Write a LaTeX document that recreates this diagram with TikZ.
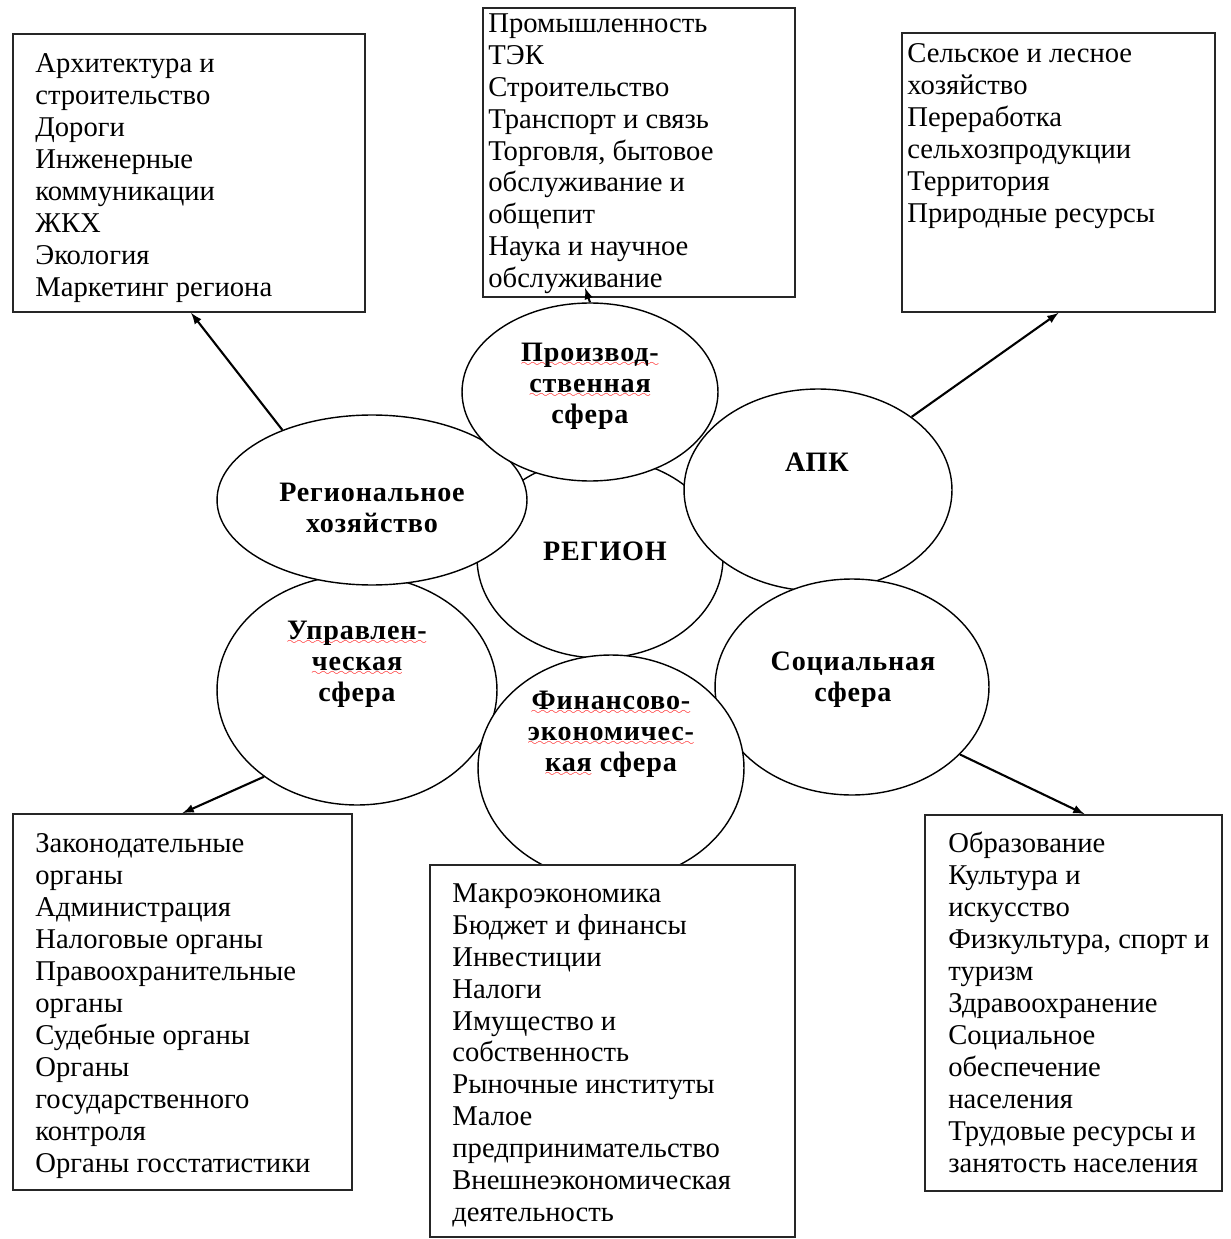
\documentclass[tikz,border=0pt]{standalone}
\usepackage{fontspec}
\setmainfont{Liberation Serif}
\newfontfamily\spherefont{Liberation Serif}[LetterSpace=3]
\usepackage{xcolor}
\usepackage{tikz}
\usetikzlibrary{calc, shapes.geometric, fit}

\font\sixly=lasy6
\newsavebox\spellbox
\newcommand\spellwave[1]{\sbox\spellbox{#1}\rlap{\smash{\raisebox{-3pt}{\color{red}\hbox to \wd\spellbox{\xleaders\hbox{\sixly\char58}\hfill}}}}\usebox\spellbox}

\tikzset{
    sphere/.style={ellipse, draw, fill=white, line width=0.8pt, inner sep=0pt},
    spheretext/.style={align=center, font=\spherefont\bfseries\fontsize{16}{17.6}\selectfont},
    listbox/.style={draw=black!85, fill=white, line width=1pt, inner sep=0pt},
    listtext/.style={anchor=north west, inner sep=0pt, align=left,
        font=\fontsize{16.3}{18.2}\selectfont},
    arrowline/.style={->, line width=1.2pt}
}

\begin{document}
\begin{tikzpicture}[>=latex, x=0.02cm, y=-0.02cm]
    \useasboundingbox (0,0) rectangle (1230,1239);

    % 1. Сферы вокруг региона
    \node[sphere, minimum width=4.92cm, minimum height=4cm] (region) at (600,558) {};
    \node[sphere, minimum width=5.6cm, minimum height=4.6cm] (upr) at (357,690) {};
    \node[sphere, minimum width=6.2cm, minimum height=3.4cm] (reghoz) at (372,500) {};
    \node[sphere, minimum width=5.36cm, minimum height=4.04cm] (apk) at (818,490) {};
    \node[sphere, minimum width=5.12cm, minimum height=3.56cm] (prod) at (590,392) {};
    \node[sphere, minimum width=5.48cm, minimum height=4.32cm] (soc) at (852,687) {};
    \node[sphere, minimum width=5.32cm, minimum height=4.52cm] (fin) at (611,768) {};

    \node[spheretext] (regionname) at (605,551) {РЕГИОН};
    \node[spheretext] (uprname) at (357,664) {\spellwave{Управлен-}\\\spellwave{ческая}\\сфера};
    \node[spheretext] (reghozname) at (372,508) {Региональное\\хозяйство};
    \node[spheretext] (apkname) at (817,462) {АПК};
    \node[spheretext] (prodname) at (590,386) {\spellwave{Производ-}\\\spellwave{ственная}\\сфера};
    \node[spheretext] (socname) at (853,680) {Социальная\\сфера};
    \node[spheretext] (finname) at (611,734) {\spellwave{Финансово-}\\\spellwave{экономичес-}\\\spellwave{кая} сфера};

    % 2. Рамки с перечнями
    \node[listbox, fit={(13,34) (365,312)}] (archbox) {};
    \node[listtext] (archlist) at (35,53) {Архитектура и\\строительство\\Дороги\\Инженерные\\коммуникации\\ЖКХ\\Экология\\Маркетинг региона};

    \node[listbox, fit={(483,8) (795,297)}] (tecbox) {};
    \node[listtext] (teclist) at (488,13) {Промышленность\\ТЭК\\Строительство\\Транспорт и связь\\Торговля, бытовое\\обслуживание и\\общепит\\Наука и научное\\обслуживание};

    \node[listbox, fit={(902,33) (1215,312)}] (agrobox) {};
    \node[listtext] (agrolist) at (907,43) {Сельское и лесное\\хозяйство\\Переработка\\сельхозпродукции\\Территория\\Природные ресурсы};

    \node[listbox, fit={(13,814) (352,1190)}] (govbox) {};
    \node[listtext] (govlist) at (35,833) {Законодательные\\органы\\Администрация\\Налоговые органы\\Правоохранительные\\органы\\Судебные органы\\Органы\\государственного\\контроля\\Органы госстатистики};

    \node[listbox, fit={(430,865) (795,1237)}] (finbox) {};
    \node[listtext] (finlist) at (452,883) {Макроэкономика\\Бюджет и финансы\\Инвестиции\\Налоги\\Имущество и\\собственность\\Рыночные институты\\Малое\\предпринимательство\\Внешнеэкономическая\\деятельность};

    \node[listbox, fit={(925,815) (1222,1191)}] (socbox) {};
    \node[listtext] (soclist) at (948,832) {Образование\\Культура и\\искусство\\Физкультура, спорт и\\туризм\\Здравоохранение\\Социальное\\обеспечение\\населения\\Трудовые ресурсы и\\занятость населения};

    % 3. Стрелки
    \draw[arrowline] (reghoz.142) -- ($(archbox.south west)+(179,0)$);
    \draw[arrowline] (prod.north) -- ($(tecbox.south)+(-54,-10)$);
    \draw[arrowline] (apk.38) -- (agrobox.south);
    \draw[arrowline] (upr.223) -- (govbox.north);
    \draw[arrowline] (soc.-32) -- ($(socbox.north)+(11,0)$);
\end{tikzpicture}
\end{document}
